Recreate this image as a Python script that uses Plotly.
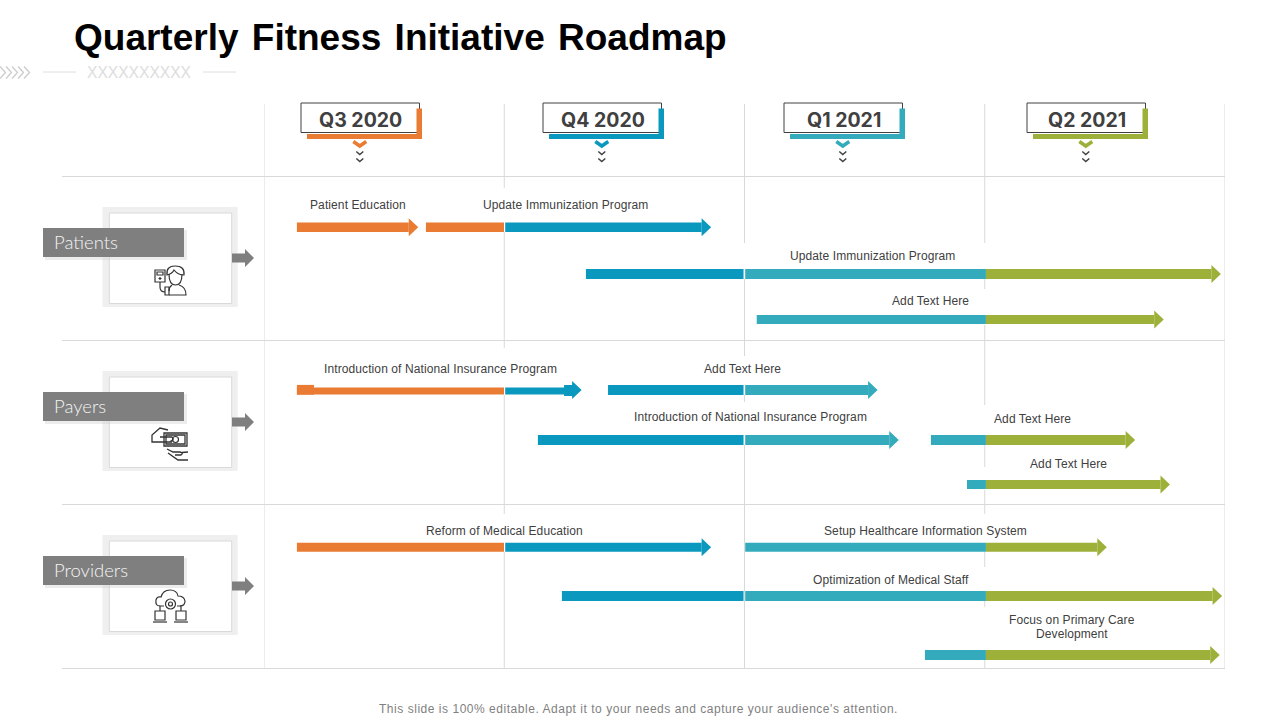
import re
import plotly.graph_objects as go

TITLE = "Quarterly Fitness Initiative Roadmap"
FOOTER = "This slide is 100% editable. Adapt it to your needs and capture your audience's attention."
QUARTERS = ["Q3 2020", "Q4 2020", "Q1 2021", "Q2 2021"]
GROUPS = ["Patients", "Payers", "Providers"]

# tasks, in quarters since the start of Q3 2020
TASK_START = [0.137, 0.674, 1.340, 2.051, 0.137, 1.432, 1.140, 2.776, 2.926, 0.137, 2.001, 1.240, 2.751]
TASK_END = [0.642, 1.861, 3.983, 3.745, 1.322, 2.554, 2.642, 3.626, 3.771, 1.861, 3.508, 3.988, 3.978]
TASK_LANE = [0, 0, 1, 2, 3, 4, 5, 5, 6, 7, 7, 8, 9]

LABELS = ["Patient Education", "Update Immunization Program", "Update Immunization Program", "Add Text Here",
          "Introduction of National Insurance Program", "Add Text Here", "Introduction of National Insurance Program",
          "Add Text Here", "Add Text Here", "Reform of Medical Education", "Setup Healthcare Information System",
          "Optimization of Medical Staff", "Focus on Primary Care", "Development"]
LABEL_X = [0.391, 1.253, 2.531, 2.776, 0.733, 1.990, 2.027, 3.197, 3.347, 0.999, 2.755, 2.610, 3.363, 3.363]
LABEL_Y = [205, 205, 256, 301, 369, 369, 417, 419, 464, 531, 531, 580, 620, 634]

# small thicker pieces on the Introduction bar
STUB_START = [0.137, 1.249]
STUB_END = [0.208, 1.288]
STUB_Y = [389.8, 390.5]
STUB_H = [9.8, 11]

LANE_Y = [227.3, 274, 319.5, 391, 390, 440, 484.5, 547.3, 596, 655]
LANE_H = [9.5, 10, 9, 7, 10, 10, 9, 9, 10, 10]

COLORS = ["#E97B33", "#0A98BE", "#33ABBC", "#9DB13A"]
EDGE_START = [0, 1.004, 2.003, 3.005]
EDGE_END = [0.999, 1.996, 3.005, 4]
GRID = "#d9d9d9"

GRID_SPANS = {
    0: [(104, 668)],
    1: [(104, 188), (232, 348), (395, 514), (552, 668)],
    2: [(104, 243), (279, 356), (395, 402), (445, 668)],
    3: [(104, 243), (279, 289), (325, 405), (445, 467), (490, 514), (552, 567), (601, 607), (660, 668)],
    4: [(104, 668)],
}

HEAD_LEN = 9.5 / 240.25
HEAD_HALF = 9


def px(x):
    return x / 1280


def convert(path, dy=0):
    def repl(m):
        return f"{px(float(m.group(1)))},{float(m.group(2)) + dy}"
    return re.sub(r"(-?[\d.]+),(-?[\d.]+)", repl, path)


shapes = []


def rect(x0, y0, x1, y1, fill, line=None, width=1, layer="below"):
    shapes.append(dict(type="rect", xref="paper", yref="y", x0=px(x0), x1=px(x1), y0=y0, y1=y1, fillcolor=fill,
                       line=dict(color=line or fill, width=width if line else 0), layer=layer))


def path(d, dy=0, color="#333333", width=1.2, fill=None):
    shapes.append(dict(type="path", xref="paper", yref="y", path=convert(d, dy),
                       line=dict(color=color, width=width), fillcolor=fill or "rgba(0,0,0,0)", layer="above"))


def circle(cx, cy, r, dy=0, color="#333333", width=1.2):
    shapes.append(dict(type="circle", xref="paper", yref="y", x0=px(cx - r), x1=px(cx + r), y0=cy - r + dy,
                       y1=cy + r + dy, line=dict(color=color, width=width), layer="above"))


fig = go.Figure()

# gridlines
for q, spans in GRID_SPANS.items():
    for y0, y1 in spans:
        shapes.append(dict(type="line", xref="x", yref="y", x0=q, x1=q, y0=y0, y1=y1,
                           line=dict(color=GRID, width=1), layer="below"))
for y in [176.5, 340.5, 504.5, 668.5]:
    shapes.append(dict(type="line", xref="paper", yref="y", x0=px(62), x1=px(1225), y0=y, y1=y,
                       line=dict(color=GRID, width=1), layer="below"))

# one trace per quarter colour, tasks are split at the quarter edges
for i, q in enumerate(QUARTERS):
    base, length, ys, hs = [], [], [], []
    for s, e, lane in zip(TASK_START, TASK_END, TASK_LANE):
        a = max(s, EDGE_START[i])
        b = min(e - HEAD_LEN, EDGE_END[i])
        if b > a:
            base.append(a)
            length.append(b - a)
            ys.append(LANE_Y[lane])
            hs.append(LANE_H[lane])
    if i < 2:
        base.append(STUB_START[i])
        length.append(STUB_END[i] - STUB_START[i])
        ys.append(STUB_Y[i])
        hs.append(STUB_H[i])
    fig.add_trace(go.Bar(x=length, base=base, y=ys, width=hs, orientation="h", name=q,
                         marker=dict(color=COLORS[i], line=dict(width=0)), hoverinfo="skip"))

# arrow heads
for i, q in enumerate(QUARTERS):
    xs, ys = [], []
    for e, lane in zip(TASK_END, TASK_LANE):
        if not (EDGE_START[i] <= e - HEAD_LEN < EDGE_END[i]):
            continue
        y = 390 if lane == 3 else LANE_Y[lane]
        xs += [e - HEAD_LEN, e, e - HEAD_LEN, e - HEAD_LEN, None]
        ys += [y - HEAD_HALF, y, y + HEAD_HALF, y - HEAD_HALF, None]
    fig.add_trace(go.Scatter(x=xs, y=ys, mode="lines", fill="toself", fillcolor=COLORS[i],
                             line=dict(width=0, color=COLORS[i]), hoverinfo="skip"))

annotations = []


def text(x, y, s, size, color="#404040", family="Liberation Sans", xref="paper", anchor="center", weight=None):
    annotations.append(dict(x=x, y=y, xref=xref, yref="y", text=s, showarrow=False, xanchor=anchor, yanchor="middle",
                            font=dict(family=family, size=size, color=color, weight=weight)))


for s, x, y in zip(LABELS, LABEL_X, LABEL_Y):
    text(x, y, f'<span style="letter-spacing:0.1px">{s}</span>', 12, color="#404040", xref="x")

# title strip
text(px(72), 37, f'<span style="word-spacing:3px">{TITLE}</span>', 37, color="#000000", anchor="left", weight=700)
text(px(139), 72, "XXXXXXXXXX", 15.6, color="#dddddd")
shapes.append(dict(type="line", xref="paper", yref="y", x0=px(43), x1=px(76), y0=72, y1=72, line=dict(color="#dedede", width=1)))
shapes.append(dict(type="line", xref="paper", yref="y", x0=px(203), x1=px(236), y0=72, y1=72, line=dict(color="#dedede", width=1)))
for cx in [3, 9, 15, 21, 27]:
    path(f"M{cx - 3},66.5 L{cx + 2.5},72.5 L{cx - 3},78.5", color="#cccccc", width=1.3)

text(px(638.5), 709, f'<span style="letter-spacing:0.53px">{FOOTER}</span>', 12, color="#7f7f7f")

# quarter headers
BOX_LEFT = [301, 543, 784, 1027]
for q, left, col in zip(QUARTERS, BOX_LEFT, COLORS):
    rect(left, 103, left + 118.5, 132.5, "#ffffff", line="#404040", width=1, layer="above")
    rect(left + 6, 134, left + 121, 139, col, layer="above")
    rect(left + 115.5, 108.5, left + 121, 139, col, layer="above")
    rect(left + 1, 133, left + 115, 133.9, "#ffffff", layer="above")
    cx = left + 58.8
    text(px(cx + 1), 120, q, 19.5, color="#404040", family="Inter", weight=700)
    path(f"M{cx - 6.5},141.5 L{cx},146 L{cx + 6.5},141.5", color=col, width=3.5)
    path(f"M{cx - 3.5},151.5 L{cx},154.5 L{cx + 3.5},151.5", color="#404040", width=1.5)
    path(f"M{cx - 3.5},158.5 L{cx},161.5 L{cx + 3.5},158.5", color="#404040", width=1.5)

# left side cards
for g, dy in zip(GROUPS, [0, 164, 328]):
    rect(102.5, 207 + dy, 237.7, 307 + dy, "#efefef")
    rect(109.3, 213 + dy, 231.7, 303.5 + dy, "#ffffff", line="#d9d9d9", width=1)
    path(f"M232,{253.5 + dy} L245,{253.5 + dy} L245,{249 + dy} L254,{258 + dy} L245,{267 + dy} L245,{262.5 + dy} L232,{262.5 + dy} Z",
         color="#7f7f7f", width=0, fill="#7f7f7f")
    shapes.append(dict(type="rect", xref="paper", yref="y", x0=px(45), x1=px(187), y0=230 + dy, y1=260 + dy,
                       fillcolor="rgba(200,200,200,0.35)", line=dict(width=0), layer="above"))
    shapes.append(dict(type="rect", xref="paper", yref="y", x0=px(43), x1=px(184), y0=228 + dy, y1=257 + dy,
                       fillcolor="#7f7f7f", line=dict(width=0), layer="above"))
    text(px(52), 242 + dy, g, 18.5, color="#f4f4f4", family="Lato", anchor="left", weight=300)

# patient icon
for d in ["M155,270 L165,270 L165,282 L155,282 Z", "M157,272 L163,272 L163,275 L157,275 Z",
          "M160,277 L160,280 M158.5,278.5 L161.5,278.5", "M160,282 L160,287 Q160,292 165,292",
          "M165,287 L169,287 L169,295 L165,295 Z", "M169,274 Q169,285 175.5,285 Q182,285 182,274",
          "M167,275 Q166,266 175,266 Q185,266 184,275 Q178,275 174,270 Q172,274 167,275 Z",
          "M172,285 Q169,287 169,291 M179,285 Q186,287 186,295 L169,295"]:
    path(d)

# payer icon
for d in ["M164,433 L187,433 L187,446 L164,446 Z", "M166,435 L185,435 L185,444 L166,444 Z",
          "M168,430 L160,428 L152,435 L152,442 L172,442", "M160,437 L172,437 Q175,440 170,441.5",
          "M167,449 L173,452 L180,452 Q184,453 181,455 L175,455", "M188,452 L182,452.5", "M188,460 L178,460 L168,453"]:
    path(d, width=1.3)
circle(175.5, 439.5, 3)

# provider icon
for d in ["M160,606 Q155,606 156,600 Q157,596 161,597 Q163,590 170,590 Q177,590 178,596 Q184,596 185,601 Q185,606 180,606",
          "M155,611 L165,611 L165,620 L155,620 Z", "M153,622 L167,622", "M176,611 L186,611 L186,620 L176,620 Z",
          "M174,622 L188,622", "M160,611 L160,606 L164,606", "M181,611 L181,606 L177,606"]:
    path(d)
circle(170.5, 604, 5)
circle(170.5, 604, 2)

fig.update_layout(
    width=1280,
    height=720,
    margin=dict(l=0, r=0, t=0, b=0),
    paper_bgcolor="#ffffff",
    plot_bgcolor="rgba(0,0,0,0)",
    barmode="overlay",
    showlegend=False,
    shapes=shapes,
    annotations=annotations,
    xaxis=dict(domain=[264 / 1280, 1225 / 1280], range=[0, 4], visible=False, fixedrange=True),
    yaxis=dict(domain=[0, 1], range=[720, 0], visible=False, fixedrange=True),
)

fig.write_html("out.html", config={"displayModeBar": False}, post_script="document.body.style.margin='0';")
